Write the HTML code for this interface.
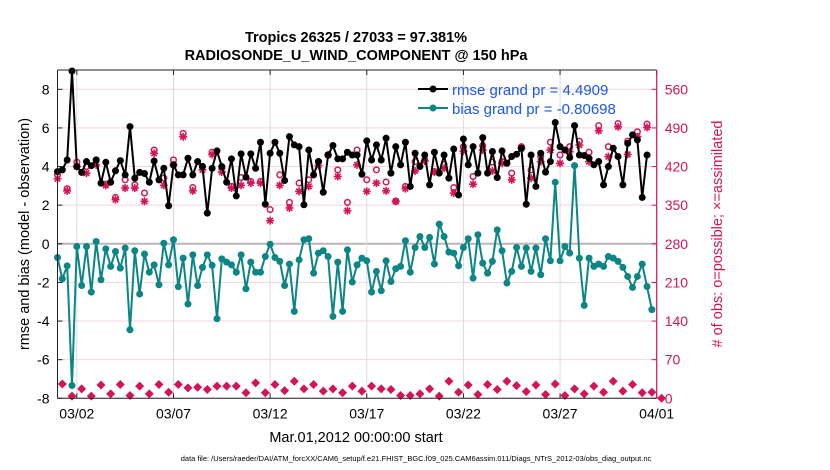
<!DOCTYPE html>
<html><head><meta charset="utf-8">
<style>
html,body{margin:0;padding:0;background:#fff;}
svg{display:block;font-family:"Liberation Sans",sans-serif;}
</style></head>
<body>
<svg id="chart" width="830" height="470" viewBox="0 0 830 470" xmlns="http://www.w3.org/2000/svg">
<rect width="830" height="470" fill="#fff"/>
<text x="356" y="42" text-anchor="middle" font-size="14.5" font-weight="bold">Tropics 26325 / 27033 = 97.381%</text>
<text x="356" y="60" text-anchor="middle" font-size="14.5" font-weight="bold">RADIOSONDE_U_WIND_COMPONENT @ 150 hPa</text>
<g id="grid"></g>
<g id="marks"></g>
<g id="axes"></g>
<text transform="translate(29,234) rotate(-90)" text-anchor="middle" font-size="14.5">rmse and bias (model - observation)</text>
<text transform="translate(722,234) rotate(-90)" text-anchor="middle" font-size="14.5" fill="#d4145a"># of obs: o=possible; ×=assimilated</text>
<text x="356" y="442" text-anchor="middle" font-size="14.5">Mar.01,2012 00:00:00 start</text>
<text x="416" y="461" text-anchor="middle" font-size="7.5">data file: /Users/raeder/DAI/ATM_forcXX/CAM6_setup/f.e21.FHIST_BGC.f09_025.CAM6assim.011/Diags_NTrS_2012-03/obs_diag_output.nc</text>
<g>
  <line x1="418" y1="89" x2="448" y2="89" stroke="#000" stroke-width="2"/>
  <circle cx="433" cy="89" r="3.5" fill="#000"/>
  <text x="452" y="95" font-size="15" fill="#1a56f0">rmse grand pr = 4.4909</text>
  <line x1="418" y1="108" x2="448" y2="108" stroke="#0b8585" stroke-width="2"/>
  <circle cx="433" cy="108" r="3.5" fill="#0b8585"/>
  <text x="452" y="114" font-size="15" fill="#1a56f0">bias grand pr = -0.80698</text>
</g>
</svg>
<script>
const rmseValues=[3.74,3.83,4.34,8.95,4.0,3.7,4.26,4.05,4.34,3.14,4.22,3.19,3.78,4.31,3.57,6.07,3.4,3.7,3.64,3.19,4.29,3.31,3.91,1.97,4.09,3.57,3.57,4.43,3.57,4.26,4.0,1.59,
3.91,4.81,4.0,3.19,4.4,2.48,4.66,3.45,4.66,3.91,5.26,2.05,4.69,5.26,4.69,3.28,5.55,5.12,5.03,2.02,4.86,3.57,4.26,2.67,4.6,5.09,4.4,4.4,4.74,4.6,4.6,
3.6,5.33,4.34,5.12,4.34,5.47,3.66,5.03,4.09,5.26,2.97,4.69,4.0,4.6,3.05,4.74,3.66,4.6,3.4,4.91,2.53,5.43,4.09,5.03,3.66,5.5,3.66,4.78,3.43,4.81,4.17,
4.52,4.64,4.95,2.05,4.6,2.97,4.69,3.71,4.26,6.28,5.03,4.86,4.47,6.12,4.6,4.57,4.43,4.09,4.26,3.05,4.0,4.95,4.52,3.05,5.2,5.64,5.38,2.4,4.6,null];
const biasValues=[-0.71,-1.81,-1.14,-7.34,-0.14,-2.16,-0.14,-2.5,0.12,-1.86,-0.26,-1.17,-0.4,-1.26,-0.22,-4.45,-0.36,-2.6,-0.53,-1.47,-1.09,-2.12,0.03,-1.09,0.21,-2.22,-0.74,-3.12,-0.57,-2.16,-1.22,-0.57,
-1.12,-3.88,-0.78,-0.95,-1.09,-1.47,-0.57,-2.33,-0.95,-1.47,-1.47,-0.66,-0.02,-0.71,-0.91,-2.16,-1.05,-3.5,-0.83,0.21,0.26,-1.52,-0.48,-0.36,-0.66,-3.76,-0.95,-3.5,-0.31,-1.98,-1.09,
-0.74,-0.88,-2.5,-1.43,-2.43,-0.88,-1.95,-1.29,-1.17,0.16,-1.47,-0.19,0.38,-0.19,0.33,-1.05,1.02,0.38,-0.43,-0.48,-1.14,-0.19,0.26,-1.78,0.47,-1.0,-1.52,-0.91,0.72,-0.36,-2.03,
-1.43,-0.19,-1.17,-0.22,-1.43,-0.22,-1.6,0.26,-0.88,3.19,-0.88,-0.14,-0.48,4.05,-0.74,-3.19,-0.74,-1.17,-1.05,-1.17,-0.66,-0.74,-0.91,-1.22,-1.69,-2.26,-1.69,-1.05,-2.21,-3.41];
// counts at even indices (00Z/12Z): possible and assimilated
const possibleEven=[405,380,428,420,432,388,364,396,387,372,450,399,432,480,382,420,446,417,384,400,393,393,342,405,355,390,396,429,441,414,355,450,396,414,392,357,384,429,432,411,424,382,456,402,458,428,429,408,456,414,438,464,441,456,466,446,494,456,498,466,483,497];
const assimEven=[398,376,420,408,423,386,360,381,381,357,444,386,423,474,376,414,442,410,381,386,390,390,322,386,345,375,384,422,441,402,340,423,375,390,376,357,380,412,430,410,417,372,448,388,450,412,426,396,453,399,429,450,426,447,459,429,485,438,492,442,474,491];
// counts at odd indices (06Z/18Z)
const countOdd=[26,4,17,4,24,8,25,5,22,8,25,11,25,19,20,16,22,22,22,10,28,10,25,14,31,17,25,13,17,10,22,13,22,17,16,5,5,8,17,4,31,11,24,7,25,16,31,23,12,24,7,26,5,17,8,22,11,31,13,25,10,11,0];
const xTickLabels=["03/02","03/07","03/12","03/17","03/22","03/27","04/01"];
const xTickDays=[1,6,11,16,21,26,31];
const leftTicks=[-8,-6,-4,-2,0,2,4,6,8];
const rightTicks=[0,70,140,210,280,350,420,490,560];

const NS="http://www.w3.org/2000/svg";
const L=57.5,R=656.7,T=70,B=398.3;
const DAYS=31, YMIN=-8, YMAX=9;
const xS=d=>L+(d/DAYS)*(R-L);
const yS=v=>B-(v-YMIN)/(YMAX-YMIN)*(B-T);
const yC=c=>yS(c/35-8);
const tOf=i=>i*0.25;
function mk(tag,attrs,parent){const e=document.createElementNS(NS,tag);for(const k in attrs)e.setAttribute(k,attrs[k]);parent.appendChild(e);return e;}
const grid=document.getElementById('grid'),marks=document.getElementById('marks'),axes=document.getElementById('axes');
const PINK="#d4145a",TEAL="#0b8585";

leftTicks.forEach(v=>{
  const l=mk('line',{x1:L,x2:R,y1:yS(v),y2:yS(v),stroke:v===0?'#bdb6b8':'#f3d3e2','stroke-width':v===0?2:1},grid);
  
  
  const t=mk('text',{x:L-8,y:yS(v)+5,'text-anchor':'end','font-size':14},axes);
  t.textContent=v;
  
  
  mk('line',{x1:L,x2:L+5,y1:yS(v),y2:yS(v),stroke:'#222'},axes);
});
xTickDays.forEach((d,k)=>{
  const l=mk('line',{x1:xS(d),x2:xS(d),y1:T,y2:B,stroke:'#dcdcdc','stroke-width':1},grid);
  
  
  mk('line',{x1:xS(d),x2:xS(d),y1:B,y2:B-5,stroke:'#222'},axes);
  mk('line',{x1:xS(d),x2:xS(d),y1:T,y2:T+5,stroke:'#222'},axes);
  const t=mk('text',{x:xS(d),y:B+20,'text-anchor':'middle','font-size':14},axes);
  t.textContent=xTickLabels[k];
  
  
});
rightTicks.forEach(c=>{
  mk('line',{x1:R-5,x2:R,y1:yC(c),y2:yC(c),stroke:PINK},axes);
  const t=mk('text',{x:R+8,y:yC(c)+5,'font-size':14,fill:PINK},axes);
  t.textContent=c;
  
  
});
mk('line',{x1:L,x2:L,y1:T,y2:B,stroke:'#222'},axes);
mk('line',{x1:L,x2:R,y1:T,y2:T,stroke:'#222'},axes);
mk('line',{x1:L,x2:R,y1:B,y2:B,stroke:'#222'},axes);
mk('line',{x1:R,x2:R,y1:T,y2:B,stroke:PINK,'stroke-width':1.2},axes);

// counts
function star(x,y){const g=mk('g',{stroke:PINK,'stroke-width':1.6},marks);
  
  
  for(let a=0;a<4;a++){const an=a*Math.PI/4,r=4;mk('line',{x1:x-r*Math.cos(an),y1:y-r*Math.sin(an),x2:x+r*Math.cos(an),y2:y+r*Math.sin(an)},g);}}
possibleEven.forEach((c,k)=>{
  const x=xS(tOf(2*k));
  star(x,yC(assimEven[k]));
  const o=mk('circle',{cx:x,cy:yC(c),r:2.8,fill:'none',stroke:PINK,'stroke-width':1.5},marks);
  
  
});
countOdd.forEach((c,k)=>{
  const x=xS(tOf(2*k+1)),y=yC(c);
  const d=mk('path',{d:`M${x} ${y-4.5}L${x+4.5} ${y}L${x} ${y+4.5}L${x-4.5} ${y}Z`,fill:PINK},marks);
  
  
});

function series(vals,color,name){
  let d='',pen=false;
  vals.forEach((v,i)=>{if(v===null){pen=false;return;}d+=(pen?'L':'M')+xS(tOf(i)).toFixed(1)+' '+yS(v).toFixed(1);pen=true;});
  const p=mk('path',{d:d,fill:'none',stroke:color,'stroke-width':2},marks);
  
  
  vals.forEach((v,i)=>{if(v===null)return;
    const c=mk('circle',{cx:xS(tOf(i)),cy:yS(v),r:3.5,fill:color},marks);
    
    
  });
}
series(biasValues,TEAL,'bias');
series(rmseValues,'#000','rmse');
</script>
</body></html>
